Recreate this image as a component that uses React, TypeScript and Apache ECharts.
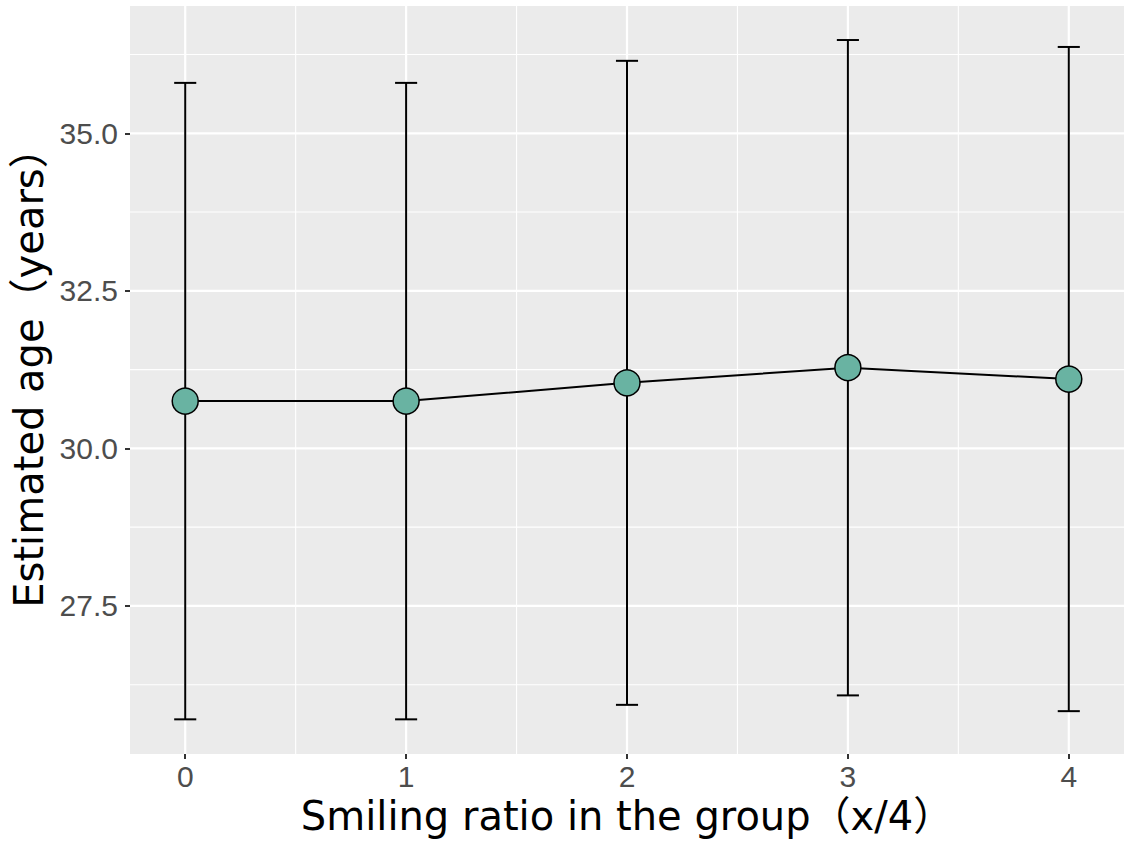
import React, { useEffect, useRef } from "react";
import * as echarts from "echarts";

const ratios = [0, 1, 2, 3, 4];
const meanAge = [30.75, 30.75, 31.04, 31.28, 31.1];
const lowAge = [25.7, 25.7, 25.93, 26.08, 25.83];
const highAge = [35.8, 35.8, 36.15, 36.48, 36.37];

const xTicks = [0, 1, 2, 3, 4];
const xMinor = [0.5, 1.5, 2.5, 3.5];
const yTicks = [27.5, 30, 32.5, 35];
const yMinor = [26.25, 28.75, 31.25, 33.75, 36.25];

const FONT = "'Liberation Sans', 'Noto Sans CJK JP', sans-serif";
const TITLE_FONT = "'DejaVu Sans', 'Noto Sans CJK JP', sans-serif";

export default function App() {
  const ref = useRef<HTMLDivElement>(null);
  useEffect(() => {
    document.body.style.margin = "0";
    const chart = echarts.init(ref.current!, null, { renderer: "svg" });
    const gridData: number[][] = [
      ...xMinor.map((v) => [v, 0, 0]),
      ...yMinor.map((v) => [v, 1, 0]),
      ...xTicks.map((v) => [v, 0, 1]),
      ...yTicks.map((v) => [v, 1, 1]),
    ];
    chart.setOption({
      animation: false,
      textStyle: { fontFamily: FONT },
      grid: {
        left: 130,
        top: 6,
        right: 0,
        bottom: 87,
        show: true,
        backgroundColor: "#EBEBEB",
        borderWidth: 0,
      },
      xAxis: {
        type: "value",
        min: -0.25,
        max: 4.25,
        name: "Smiling ratio in the group（x/4）",
        nameLocation: "middle",
        nameGap: 34,
        nameTextStyle: { fontSize: 40, lineHeight: 28, color: "#000", fontFamily: TITLE_FONT },
        axisLine: { show: false, onZero: false },
        splitLine: { show: false },
        axisTick: {
          show: true,
          customValues: xTicks,
          length: 5,
          lineStyle: { color: "#333", width: 2 },
        },
        axisLabel: {
          customValues: xTicks,
          color: "#4D4D4D",
          fontSize: 30,
          lineHeight: 24,
          margin: 10,
          fontFamily: FONT,
          formatter: (v: number) => String(v),
        },
      },
      yAxis: {
        type: "value",
        min: 25.15,
        max: 37.02,
        name: "Estimated age（years）",
        nameLocation: "middle",
        nameGap: 79,
        nameTextStyle: {
          fontSize: 40,
          lineHeight: 40,
          color: "#000",
          fontFamily: TITLE_FONT,
          padding: [0, 0, 0, 24],
        },
        axisLine: { show: false, onZero: false },
        splitLine: { show: false },
        axisTick: {
          show: true,
          customValues: yTicks,
          length: 5,
          lineStyle: { color: "#333", width: 2 },
        },
        axisLabel: {
          customValues: yTicks,
          color: "#4D4D4D",
          fontSize: 30,
          margin: 12,
          fontFamily: FONT,
          formatter: (v: number) => v.toFixed(1),
        },
      },
      series: [
        {
          type: "custom",
          silent: true,
          z: 0,
          data: gridData,
          renderItem: (params: any, api: any) => {
            const cs = params.coordSys;
            const v = api.value(0);
            const dir = api.value(1);
            const major = api.value(2);
            const w = major ? 2.2 : 1.1;
            if (dir === 0) {
              const p = api.coord([v, 30]);
              return {
                type: "line",
                shape: { x1: p[0], y1: cs.y, x2: p[0], y2: cs.y + cs.height },
                style: { stroke: "#FFFFFF", lineWidth: w },
              };
            }
            const p = api.coord([0, v]);
            return {
              type: "line",
              shape: { x1: cs.x, y1: p[1], x2: cs.x + cs.width, y2: p[1] },
              style: { stroke: "#FFFFFF", lineWidth: w },
            };
          },
        },
        {
          type: "custom",
          silent: true,
          z: 2,
          data: ratios.map((r, i) => [r, lowAge[i], highAge[i]]),
          renderItem: (params: any, api: any) => {
            const x = api.value(0);
            const lo = api.value(1);
            const hi = api.value(2);
            const pLo = api.coord([x, lo]);
            const pHi = api.coord([x, hi]);
            const capL = api.coord([x - 0.05, hi]);
            const capR = api.coord([x + 0.05, hi]);
            const capL2 = api.coord([x - 0.05, lo]);
            const capR2 = api.coord([x + 0.05, lo]);
            const style = { stroke: "#000", lineWidth: 2 };
            return {
              type: "group",
              children: [
                { type: "line", shape: { x1: pLo[0], y1: pLo[1], x2: pHi[0], y2: pHi[1] }, style },
                { type: "line", shape: { x1: capL[0], y1: capL[1], x2: capR[0], y2: capR[1] }, style },
                { type: "line", shape: { x1: capL2[0], y1: capL2[1], x2: capR2[0], y2: capR2[1] }, style },
              ],
            };
          },
        },
        {
          type: "line",
          z: 5,
          data: ratios.map((r, i) => [r, meanAge[i]]),
          symbol: "circle",
          symbolSize: 26,
          lineStyle: { color: "#000", width: 2 },
          itemStyle: { color: "#69B3A2", borderColor: "#000", borderWidth: 1.5 },
          emphasis: { disabled: true },
        },
      ],
    });
    return () => chart.dispose();
  }, []);
  return <div ref={ref} style={{ width: 1124, height: 841 }} />;
}
